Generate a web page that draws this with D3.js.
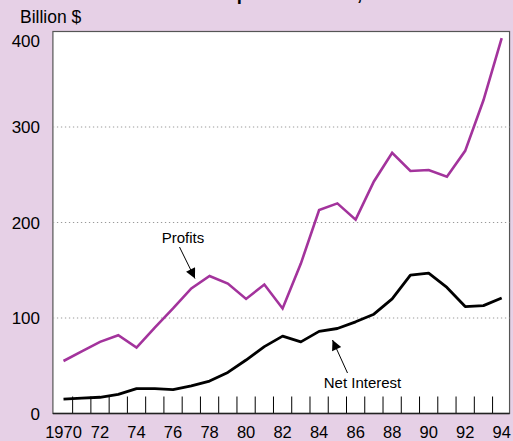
<head>
    <style>
        body {
            margin: 0;
            background-color: #e6d0e6;
        }
        text {
            font-family: "Liberation Sans", Arial, sans-serif;
        }
    </style>
</head>

<div class="board"></div>
<script src="https://d3js.org/d3.v7.min.js"></script>

<script>
    var width = 513,
        height = 441

    var svg = d3.select(".board")
        .append("svg")
        .attr("width", width)
        .attr("height", height)

    // data (billion $)
    YEARS = d3.range(1970, 1995)
    PROFITS = [55, 65, 75, 82, 69, 90, 110, 131, 144, 136, 120, 135, 110,
        157, 213, 220, 203, 243, 273, 254, 255, 248, 275, 328, 393]
    NET_INTEREST = [15, 16, 17, 20, 26, 26, 25, 29, 34, 43, 56, 70, 81,
        75, 86, 89, 96, 104, 120, 145, 147, 132, 112, 113, 121]
    Y_TICKS = [0, 100, 200, 300, 400]
    X_LABELS = [1970, 1972, 1974, 1976, 1978, 1980, 1982, 1984, 1986, 1988, 1990, 1992, 1994]
    X_LABEL_TEXT = ["1970", "72", "74", "76", "78", "80", "82", "84", "86", "88", "90", "92", "94"]

    PURPLE = "#a3339c"

    let x = d3.scaleLinear()
        .domain([1970, 1994])
        .range([63.5, 501.7])

    let y = d3.scaleLinear()
        .domain([0, 400])
        .range([413.5, 31.5])

    let left = x(1969.42), right = x(1994.43)

    // title sits above the window, only descenders peek in
    svg.append("text")
        .attr("x", 60)
        .attr("y", -0.5)
        .attr("font-size", 18.5)
        .attr("font-weight", "bold")
        .text("Net Interest and Corporate Profits, 1970–94")

    // plot area
    svg.append("rect")
        .attr("x", left)
        .attr("y", y(400))
        .attr("width", right - left)
        .attr("height", y(0) - y(400))
        .attr("fill", "white")
        .attr("stroke", "#555")
        .attr("stroke-width", 1.2)

    svg.append("g")
        .selectAll("line")
        .data([100, 200, 300])
        .enter()
        .append("line")
        .attr("x1", left)
        .attr("x2", right)
        .attr("y1", d => y(d))
        .attr("y2", d => y(d))
        .attr("stroke", "#999")
        .attr("stroke-width", 1)
        .attr("stroke-dasharray", "1.3,2.7")

    // year ticks sit between the years
    svg.append("g")
        .selectAll("line")
        .data(YEARS.slice(0, -1))
        .enter()
        .append("line")
        .attr("x1", d => x(d + 0.5))
        .attr("x2", d => x(d + 0.5))
        .attr("y1", y(0))
        .attr("y2", y(0) - 17)
        .attr("stroke", "black")
        .attr("stroke-width", 1)

    svg.append("line")
        .attr("x1", left)
        .attr("x2", right)
        .attr("y1", y(0))
        .attr("y2", y(0))
        .attr("stroke", "#222")
        .attr("stroke-width", 1.5)

    svg.append("g")
        .selectAll("text")
        .data(X_LABELS)
        .enter()
        .append("text")
        .attr("x", d => x(d))
        .attr("y", 438)
        .attr("text-anchor", "middle")
        .attr("font-size", 16.5)
        .text((d, i) => X_LABEL_TEXT[i])

    svg.append("g")
        .selectAll("text")
        .data(Y_TICKS)
        .enter()
        .append("text")
        .attr("x", 40)
        .attr("y", d => y(d) + (d == 400 ? 15 : 6))
        .attr("text-anchor", "end")
        .attr("font-size", 17)
        .text(d => d)

    svg.append("text")
        .attr("x", 20)
        .attr("y", 23)
        .attr("font-size", 17.5)
        .text("Billion $")

    // lines
    let line = d3.line()
        .x((d, i) => x(YEARS[i]))
        .y(d => y(d))

    svg.append("path")
        .datum(PROFITS)
        .attr("fill", "none")
        .attr("stroke", PURPLE)
        .attr("stroke-width", 2.6)
        .attr("d", line)

    svg.append("path")
        .datum(NET_INTEREST)
        .attr("fill", "none")
        .attr("stroke", "black")
        .attr("stroke-width", 2.8)
        .attr("stroke-linejoin", "round")
        .attr("d", line)

    // annotations
    svg.append("defs").append("marker")
        .attr("id", "head")
        .attr("viewBox", "0 0 10 10")
        .attr("refX", 10)
        .attr("refY", 5)
        .attr("markerWidth", 14)
        .attr("markerHeight", 10)
        .attr("markerUnits", "userSpaceOnUse")
        .attr("orient", "auto")
        .append("path")
        .attr("d", "M0,0L10,5L0,10Z")
        .attr("fill", "black")

    function annotate(label, tx, ty, x1, y1, x2, y2) {
        svg.append("text")
            .attr("x", tx)
            .attr("y", ty)
            .attr("text-anchor", "middle")
            .attr("font-size", 15)
            .text(label)
        svg.append("line")
            .attr("x1", x1)
            .attr("y1", y1)
            .attr("x2", x2)
            .attr("y2", y2)
            .attr("stroke", "black")
            .attr("stroke-width", 1)
            .attr("marker-end", "url(#head)")
    }

    annotate("Profits", 183, 243, 179.5, 247, 195, 278.5)
    annotate("Net Interest", 362.5, 388, 347.5, 373, 332.5, 340)
</script>
